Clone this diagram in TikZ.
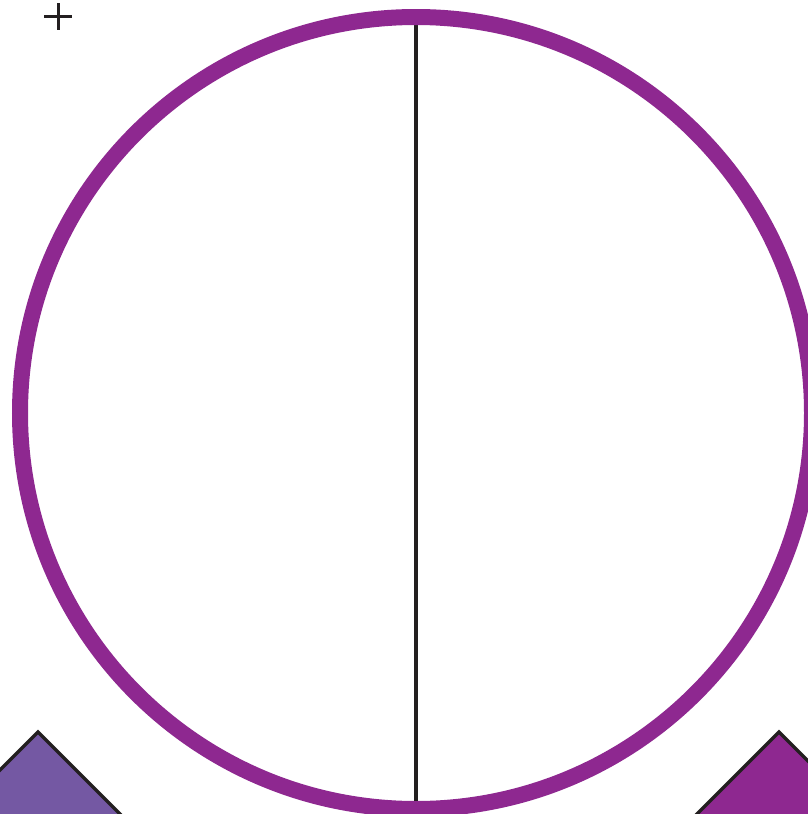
\documentclass[tikz,border=0pt]{standalone}
\definecolor{ringpurple}{HTML}{8E2890}
\definecolor{violetfill}{HTML}{7458A3}
\definecolor{inkblack}{HTML}{231F20}
\begin{document}
\begin{tikzpicture}[x=1pt,y=-1pt,
  ring/.style={draw=ringpurple,line width=16pt},
  axisline/.style={draw=inkblack,line width=4pt},
  tri/.style={draw=inkblack,line width=3.5pt,line join=miter},
  plusmark/.style={draw=inkblack,line width=3pt}]
\useasboundingbox (0,0) rectangle (808,814);
\clip (0,0) rectangle (808,814);
\fill[white] (0,0) rectangle (808,814);
% plus mark
\draw[plusmark] (44,16) -- (72,16) (58,3) -- (58,30);
% diamonds at bottom corners
\draw[tri,fill=violetfill] (38,732) -- (148,842) -- (38,952) -- (-72,842) -- cycle;
\draw[tri,fill=ringpurple] (779,732) -- (889,842) -- (779,952) -- (669,842) -- cycle;
% vertical diameter
\coordinate (top) at (416,24);
\coordinate (bot) at (416,802);
\draw[axisline] (top) -- (bot);
% ring
\draw[ring] (416,413) circle (396);
\end{tikzpicture}
\end{document}
